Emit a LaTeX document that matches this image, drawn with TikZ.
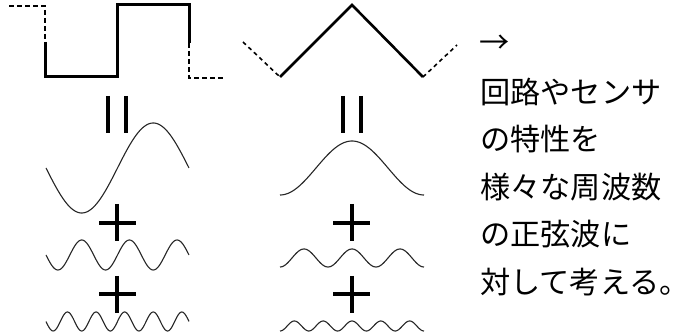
\documentclass[tikz,border=0pt]{standalone}
\usepackage{fontspec}
\newfontfamily\jpfont{Noto Sans CJK JP}
\begin{document}
\begin{tikzpicture}[x=1pt,y=-1pt,
  thick solid/.style={line width=3pt,line join=miter,black},
  sqdash/.style={line width=2.6pt,dash pattern=on 5pt off 3pt,black},
  tridash/.style={line width=1.6pt,dash pattern=on 4pt off 3.5pt,black},
  wave/.style={line width=1.1pt,black!85,smooth},
  bar/.style={line width=3.2pt,black},
  txt/.style={anchor=west,inner sep=0pt,font=\jpfont\fontsize{30.2pt}{36pt}\selectfont}]
\useasboundingbox (0,0) rectangle (675,336);
% square wave
\draw[sqdash] (9,6) -- (45,6) -- (45,42);
\draw[thick solid] (45,42) -- (45,77) -- (117,77) -- (117,5) -- (189,5) -- (189,43);
\draw[sqdash] (189,43) -- (189,78) -- (225,78);
% triangle wave
\draw[tridash] (243,42) -- (280,77);
\draw[line width=2.6pt,black,line join=miter] (280,77) -- (352,5) -- (423,77);
\draw[tridash] (423,77) -- (457,45);
% equal signs
\draw[bar] (108,96) -- (108,133) (126,96) -- (126,133);
\draw[bar] (343,96) -- (343,133) (361,96) -- (361,133);
% plus signs
\draw[bar] (99,223) -- (136,223) (117,204) -- (117,241);
\draw[bar] (99,294) -- (136,294) (117,276) -- (117,313);
\draw[bar] (333,223) -- (370,223) (352,204) -- (352,241);
\draw[bar] (333,294) -- (370,294) (352,276) -- (352,313);
% left sine components (period 143)
\draw[wave] plot[domain=46:189,samples=120] (\x,{168+45*sin((\x-46)*2.51748)});
\draw[wave] plot[domain=46:189,samples=160] (\x,{255+15*sin((\x-46)*7.55245)});
\draw[wave] plot[domain=46:189,samples=200] (\x,{321.5+9.5*sin((\x-46)*12.58741)});
% right cosine components (period 144)
\draw[wave] plot[domain=280:424,samples=120] (\x,{168+27*cos((\x-280)*2.5)});
\draw[wave] plot[domain=280:424,samples=160] (\x,{258+9*cos((\x-280)*7.5)});
\draw[wave] plot[domain=280:424,samples=200] (\x,{326+5*cos((\x-280)*12.5)});
% text
\node[txt] (arrow) at (479,44) {→};
\node[txt] (l1) at (480,92) {回路やセンサ};
\node[txt] (l2) at (480,139.5) {の特性を};
\node[txt] (l3) at (480,187) {様々な周波数};
\node[txt] (l4) at (480,234.5) {の正弦波に};
\node[txt] (l5) at (480,282) {対して考える\rlap{。}};
\end{tikzpicture}
\end{document}
